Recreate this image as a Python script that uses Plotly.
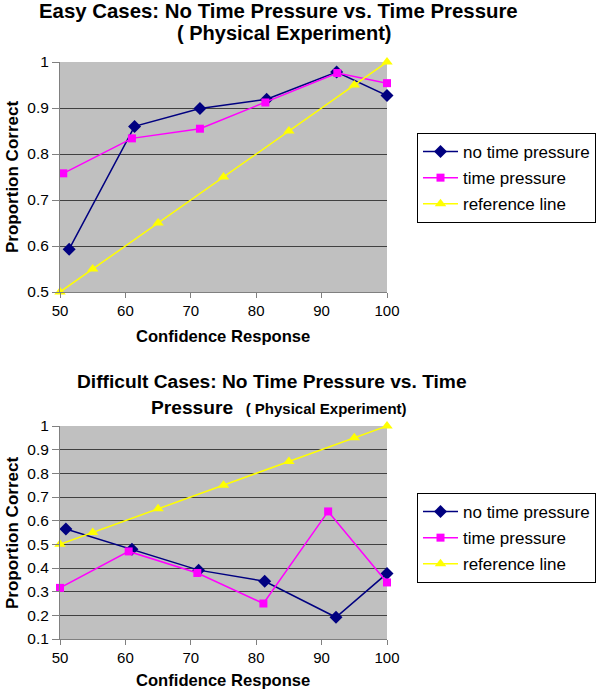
import plotly.graph_objects as go

# ---- data ----
series_names = ["no time pressure", "time pressure", "reference line"]

easy_no_x = [51.4, 61.4, 71.4, 81.6, 92.3, 100]
easy_no_y = [0.593, 0.860, 0.899, 0.919, 0.978, 0.927]
easy_tp_x = [50.5, 61.0, 71.4, 81.4, 92.4, 100]
easy_tp_y = [0.758, 0.834, 0.855, 0.912, 0.976, 0.954]

diff_no_x = [50.9, 61.0, 71.2, 81.3, 92.2, 100]
diff_no_y = [0.565, 0.479, 0.391, 0.344, 0.192, 0.377]
diff_tp_x = [50, 60.5, 71.0, 81.1, 91.0, 100]
diff_tp_y = [0.316, 0.470, 0.379, 0.250, 0.639, 0.339]

ref_x = [50, 55, 65, 75, 85, 95, 100]
ref_y = [0.5, 0.55, 0.65, 0.75, 0.85, 0.95, 1.0]

x_ticks = [50, 60, 70, 80, 90, 100]

NAVY = "#000080"
MAG = "#FF00FF"
YEL = "#FFFF00"
FONT = "Arial, Liberation Sans, sans-serif"
W, H = 600, 690

fig = go.Figure()

def add_series(x, y, name, color, symbol, size, xa, ya, leg):
    fig.add_trace(go.Scatter(
        x=x, y=y, name=name, mode="lines+markers",
        line=dict(color=color, width=1.5),
        marker=dict(color=color, symbol=symbol, size=size),
        xaxis=xa, yaxis=ya, legend=leg, legendgroup=leg + name,
        cliponaxis=False))

add_series(easy_no_x, easy_no_y, series_names[0], NAVY, "diamond", 10, "x", "y", "legend")
add_series(easy_tp_x, easy_tp_y, series_names[1], MAG, "square", 8, "x", "y", "legend")
add_series(ref_x, ref_y, series_names[2], YEL, "triangle-up", 10, "x", "y", "legend")

add_series(diff_no_x, diff_no_y, series_names[0], NAVY, "diamond", 10, "x2", "y2", "legend2")
add_series(diff_tp_x, diff_tp_y, series_names[1], MAG, "square", 8, "x2", "y2", "legend2")
add_series(ref_x, ref_y, series_names[2], YEL, "triangle-up", 10, "x2", "y2", "legend2")

def px(v):
    return v / W

def py(v):
    return 1 - v / H

xcommon = dict(range=[50, 100], tickvals=x_ticks, ticks="outside", ticklen=5,
               tickcolor="#808080", showgrid=False, zeroline=False, showline=True,
               linecolor="#808080", linewidth=1, tickfont=dict(family=FONT, size=15, color="black"))
ycommon = dict(dtick=0.1, ticks="outside", ticklen=7, tickcolor="#808080",
               showgrid=True, gridcolor="#404040", gridwidth=1, zeroline=False,
               showline=True, linecolor="#808080", linewidth=1,
               tickfont=dict(family=FONT, size=15.5, color="black"))

legcommon = dict(bgcolor="white", bordercolor="black", borderwidth=1,
                 font=dict(family=FONT, size=17, color="black"), itemwidth=35,
                 xanchor="left", yanchor="top", traceorder="grouped", tracegroupgap=1)

fig.update_layout(
    width=W, height=H, margin=dict(l=0, r=0, t=0, b=0, autoexpand=False),
    paper_bgcolor="white", plot_bgcolor="#C0C0C0",
    xaxis=dict(domain=[px(60), px(387)], anchor="y", **xcommon),
    yaxis=dict(domain=[py(292), py(62)], anchor="x", range=[0.5, 1.0], **ycommon),
    xaxis2=dict(domain=[px(60), px(387)], anchor="y2", **xcommon),
    yaxis2=dict(domain=[py(639), py(426)], anchor="x2", range=[0.1, 1.0], **ycommon),
    legend=dict(x=px(417), y=py(133), **legcommon),
    legend2=dict(x=px(417), y=py(493), **legcommon),
    showlegend=True,
)

def ann(text, x, y, size, angle=0):
    fig.add_annotation(text=text, x=px(x), y=py(y), xref="paper", yref="paper",
                       showarrow=False, xanchor="center", yanchor="middle",
                       textangle=angle, borderpad=0,
                       font=dict(family=FONT, size=size, color="black"))

ann("<b>Easy Cases: No Time Pressure vs. Time Pressure</b>", 278, 11, 20.4)
ann("<b>( Physical Experiment)</b>", 284, 33, 20)
ann("<b>Difficult Cases: No Time Pressure vs. Time</b>", 272, 381, 19.2)
ann("<b>Pressure</b><span style='font-size:15px'><b>   ( Physical Experiment)</b></span>", 279, 407, 19.2)

ann("<b>Confidence Response</b>", 223, 336, 16.6)
ann("<b>Confidence Response</b>", 223, 680, 16.6)
ann("<b>Proportion Correct</b>", 12, 177, 17, -90)
ann("<b>Proportion Correct</b>", 12, 533, 17, -90)

fig.write_html("out.html", config={"displayModeBar": False},
               post_script="document.body.style.margin='0px';document.body.style.overflow='hidden';")
